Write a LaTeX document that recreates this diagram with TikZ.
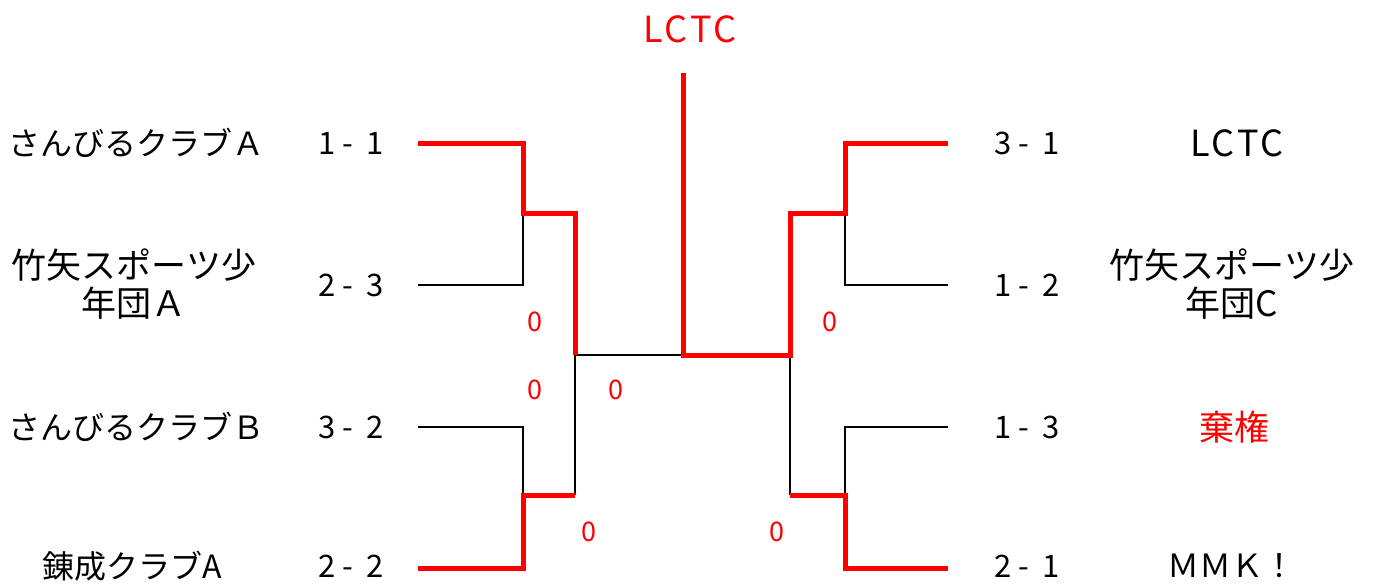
\documentclass[tikz,border=0pt]{standalone}
\usepackage{fontspec}
\setmainfont{Noto Sans CJK JP}
\begin{document}
\begin{tikzpicture}[x=1pt, y=-1pt,
    team/.style={font=\fontsize{32}{38}\selectfont, align=center, inner sep=0pt},
    bigteam/.style={font=\fontsize{35}{38}\selectfont, align=center, inner sep=0pt},
    club/.style={font=\fontsize{36}{40}\selectfont\addfontfeature{LetterSpace=8}, inner sep=0pt},
    score/.style={font=\fontsize{31}{34}\selectfont, inner sep=0pt},
    goal/.style={font=\fontsize{27}{30}\selectfont, red, inner sep=0pt},
    win/.style={red, line width=5pt},
    lose/.style={black, line width=2.5pt}]
    \useasboundingbox (0,0) rectangle (1374,587);

    % 1. Title (winner)
    \node[club, red] (champ) at (690,29) {LCTC};

    % 2. Team names, left and right
    \node[team] (tA) at (137,143) {さんびるクラブＡ};
    \node[bigteam] (tB) at (134,284) {竹矢スポーツ少\\年団Ａ};
    \node[team] (tC) at (137,427) {さんびるクラブＢ};
    \node[team] (tD) at (132,566) {錬成クラブA};
    \node[club] (tE) at (1237,143) {LCTC};
    \node[bigteam] (tF) at (1232,284) {竹矢スポーツ少\\年団C};
    \node[bigteam, red] (tG) at (1234,427) {棄権};
    \node[team] (tH) at (1231,566) {ＭＭＫ！};

    % 3. Scores
    \node[score] (sA) at (351,143) {1 -\ \ 1};
    \node[score] (sB) at (351,285) {2 -\ \ 3};
    \node[score] (sC) at (351,427) {3 -\ \ 2};
    \node[score] (sD) at (351,566) {2 -\ \ 2};
    \node[score] (sE) at (1027,143) {3 -\ \ 1};
    \node[score] (sF) at (1027,285) {1 -\ \ 2};
    \node[score] (sG) at (1027,427) {1 -\ \ 3};
    \node[score] (sH) at (1027,566) {2 -\ \ 1};

    % 4. Bracket points
    \coordinate (L1) at (418,143);
    \coordinate (L2) at (418,285);
    \coordinate (L3) at (418,427);
    \coordinate (L4) at (418,568);
    \coordinate (J1) at (523,213);
    \coordinate (J2) at (523,495);
    \coordinate (S1) at (575,355);
    \coordinate (F)  at (683,355);
    \coordinate (T)  at (683,73);
    \coordinate (S2) at (790,355);
    \coordinate (K1) at (845,213);
    \coordinate (K2) at (845,495);
    \coordinate (R1) at (948,143);
    \coordinate (R2) at (948,285);
    \coordinate (R3) at (948,427);
    \coordinate (R4) at (948,568);

    % 5. Losing lines (black)
    \draw[lose] (L2) -| (J1);
    \draw[lose] (L3) -| (J2);
    \draw[lose] (J2 -| S1) -- (S1) -- (F);
    \draw[lose] (S2) -- (S2 |- K2);
    \draw[lose] (R2) -| (K1);
    \draw[lose] (R3) -| (K2);

    % 6. Winning lines (red)
    \draw[win] (L1) -| (J1) -- (J1 -| S1) -- (S1);
    \draw[win] (L4) -| (J2) -- (J2 -| S1);
    \draw[win] (T) -- (F) -- (S2) |- (K1) |- (R1);
    \draw[win] (S2 |- K2) -- (K2) |- (R4);

    % 7. Small red zeros
    \node[goal] (g1) at (535,322) {0};
    \node[goal] (g2) at (535,390) {0};
    \node[goal] (g3) at (616,390) {0};
    \node[goal] (g4) at (830,322) {0};
    \node[goal] (g5) at (589,532) {0};
    \node[goal] (g6) at (777,532) {0};
\end{tikzpicture}
\end{document}
